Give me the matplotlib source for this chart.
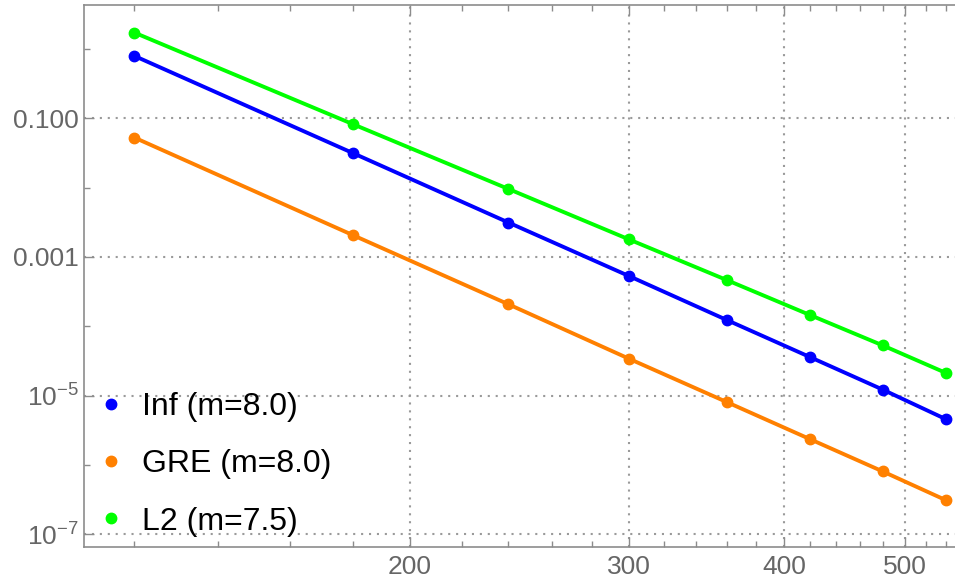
"""Log-log convergence plot of three error norms versus grid size."""

import math

import matplotlib
matplotlib.use("Agg")
import matplotlib.pyplot as plt
from matplotlib.lines import Line2D
from matplotlib.ticker import FixedLocator, FuncFormatter, NullFormatter

plt.rcParams["font.family"] = ["Liberation Sans", "DejaVu Sans"]
plt.rcParams["mathtext.fontset"] = "custom"
plt.rcParams["mathtext.rm"] = "Liberation Sans"
plt.rcParams["mathtext.it"] = "Liberation Sans"

# grid sizes
n_values = [120, 180, 240, 300, 360, 420, 480, 540]

# error values
inf_err = [0.793, 0.0313, 3.13e-3, 5.3e-4, 1.22e-4, 3.56e-5, 1.22e-5, 4.54e-6]
gre_err = [0.0526, 2.05e-3, 2.07e-4, 3.40e-5, 7.98e-6, 2.33e-6, 8.05e-7, 3.08e-7]
l2_err = [1.72, 0.0819, 9.55e-3, 1.79e-3, 4.6e-4, 1.44e-4, 5.3e-5, 2.11e-5]

labels = ["Inf (m=8.0)", "GRE (m=8.0)", "L2 (m=7.5)"]
colors = ["#0000ff", "#ff8000", "#00ff00"]

x_major = [200, 300, 400, 500]
x_minor = list(range(120, 200, 20)) + list(range(220, 560, 20))
y_major = [1e-1, 1e-3, 1e-5, 1e-7]
y_minor = [1e0, 1e-2, 1e-4, 1e-6]

AXIS_GRAY = "#8c8c8c"
LABEL_GRAY = "#666666"


def y_label(v, pos):
    if v >= 1e-3:
        return f"{v:.3f}"
    exp = int(round(math.log10(v)))
    return rf"$10^{{{exp}}}$"


def main() -> None:
    fig = plt.figure(figsize=(9.55, 5.87), dpi=100)
    ax = fig.add_axes([0.088, 0.068, 0.912, 0.923])

    for series, color in zip([inf_err, gre_err, l2_err], colors):
        ax.plot(n_values, series, color=color, lw=2.8, marker="o", ms=7.5,
                solid_capstyle="round", zorder=3)

    ax.set_xscale("log")
    ax.set_yscale("log")
    ax.set_xlim(109.3, 549)
    ax.set_ylim(6.5e-8, 4.27)

    ax.xaxis.set_major_locator(FixedLocator(x_major))
    ax.xaxis.set_minor_locator(FixedLocator(x_minor))
    ax.xaxis.set_major_formatter(FuncFormatter(lambda v, p: f"{v:.0f}"))
    ax.xaxis.set_minor_formatter(NullFormatter())
    ax.yaxis.set_major_locator(FixedLocator(y_major))
    ax.yaxis.set_minor_locator(FixedLocator(y_minor))
    ax.yaxis.set_major_formatter(FuncFormatter(y_label))
    ax.yaxis.set_minor_formatter(NullFormatter())

    ax.tick_params(which="both", direction="in", color=AXIS_GRAY,
                   labelcolor=LABEL_GRAY, labelsize=19, top=True, right=False)
    ax.tick_params(which="major", length=7, width=1)
    ax.tick_params(which="minor", length=4.5, width=1)
    ax.tick_params(axis="x", pad=6)
    ax.tick_params(axis="y", pad=4)

    for side in ["left", "bottom", "top"]:
        ax.spines[side].set_color(AXIS_GRAY)
        ax.spines[side].set_linewidth(1.2)
    ax.spines["right"].set_visible(False)

    ax.grid(True, which="major", color="#9a9a9a", lw=1.5,
            linestyle=(0, (1, 2.8)), zorder=0)
    ax.set_axisbelow(True)

    handles = [Line2D([], [], linestyle="none", marker="o", ms=7.5, color=c)
               for c in colors]
    ax.legend(handles, labels, loc="upper left", bbox_to_anchor=(0.0, 0.328),
              frameon=False, fontsize=23, handlelength=0.3, handletextpad=0.8,
              labelspacing=0.86, borderaxespad=0.3)

    fig.savefig("out.png", dpi=100)


if __name__ == "__main__":
    main()
